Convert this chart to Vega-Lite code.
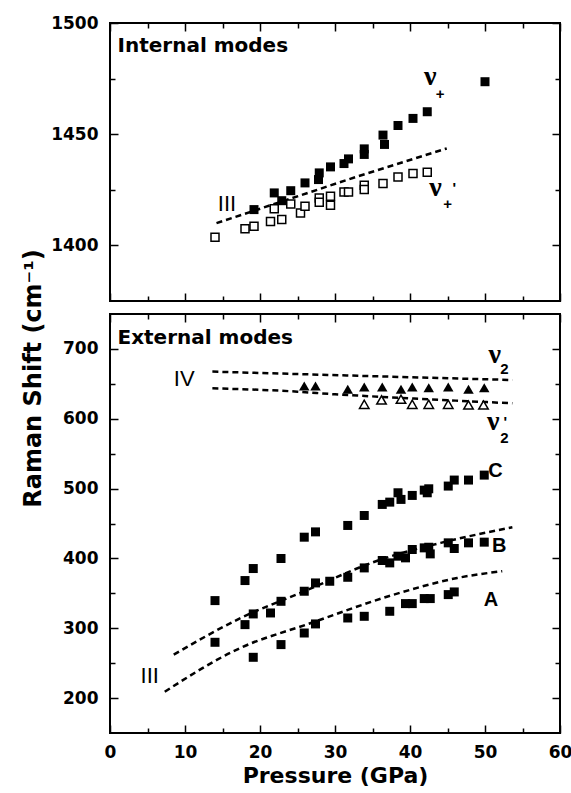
{
  "$schema": "https://vega.github.io/schema/vega-lite/v6.json",
  "background": "white",
  "padding": {"left": 19, "top": 13, "right": 5, "bottom": 5},
  "bounds": "flush",
  "spacing": 13,
  "config": {
    "view": {"stroke": "black", "strokeWidth": 2},
    "axis": {
      "domain": false, "grid": false, "tickColor": "black", "tickWidth": 1.5,
      "labelFont": "DejaVu Sans", "labelFontWeight": "bold", "labelFontSize": 17, "labelColor": "black",
      "labelFlush": false, "labelOverlap": false, "format": "d",
      "titleColor": "black", "titleFont": "DejaVu Sans", "titleFontWeight": "bold"
    }
  },
  "vconcat": [
    {
      "width": 450, "height": 278,
      "resolve": {"axis": {"x": "independent", "y": "independent"}},
      "layer": [
        {
          "data": {"values": [{"P": 14.2, "v": 1410}, {"P": 33, "v": 1431}, {"P": 44.9, "v": 1443.6}]},
          "mark": {"type": "line", "color": "black", "strokeWidth": 2.5, "strokeDash": [6, 4]},
          "encoding": {
            "x": {"field": "P", "type": "quantitative", "scale": {"domain": [0, 60], "nice": false}, "axis": {"orient": "top", "values": [0, 10, 20, 30, 40, 50, 60], "labels": false, "tickSize": -8, "title": null}},
            "y": {"field": "v", "type": "quantitative", "scale": {"domain": [1375, 1500], "nice": false, "zero": false}, "axis": {"orient": "right", "values": [1400, 1450, 1500], "labels": false, "tickSize": -8, "title": null}}
          }
        },
        {
          "data": {"values": [
            {"P": 14.0, "v": 1403.7}, {"P": 18.0, "v": 1407.5}, {"P": 19.2, "v": 1408.6}, {"P": 21.4, "v": 1410.8},
            {"P": 21.9, "v": 1416.5}, {"P": 22.9, "v": 1411.6}, {"P": 24.1, "v": 1418.6}, {"P": 25.4, "v": 1414.6},
            {"P": 26.0, "v": 1417.6}, {"P": 27.9, "v": 1421.3}, {"P": 27.9, "v": 1419.4}, {"P": 29.4, "v": 1422.1},
            {"P": 29.4, "v": 1418.0}, {"P": 31.2, "v": 1424.0}, {"P": 31.8, "v": 1424.0}, {"P": 33.9, "v": 1427.0},
            {"P": 33.9, "v": 1425.1}, {"P": 36.4, "v": 1427.8}, {"P": 38.4, "v": 1430.8}, {"P": 40.4, "v": 1432.3},
            {"P": 42.3, "v": 1432.9}
          ]},
          "mark": {"type": "point", "shape": "square", "size": 64, "filled": false, "fill": "white", "fillOpacity": 1, "stroke": "black", "strokeWidth": 1.5, "opacity": 1},
          "encoding": {
            "x": {"field": "P", "type": "quantitative", "scale": {"domain": [0, 60], "nice": false}, "axis": {"orient": "bottom", "values": [5, 15, 25, 35, 45, 55], "labels": false, "tickSize": -5, "title": null}},
            "y": {"field": "v", "type": "quantitative", "scale": {"domain": [1375, 1500], "nice": false, "zero": false}, "axis": {"orient": "left", "values": [1425, 1475], "labels": false, "tickSize": -5, "title": null}}
          }
        },
        {
          "data": {"values": [
            {"P": 19.2, "v": 1416.1}, {"P": 21.9, "v": 1423.6}, {"P": 22.9, "v": 1420.1}, {"P": 24.1, "v": 1424.6},
            {"P": 26.0, "v": 1428.1}, {"P": 27.9, "v": 1432.6}, {"P": 27.8, "v": 1429.6}, {"P": 29.4, "v": 1435.3},
            {"P": 31.2, "v": 1436.8}, {"P": 31.8, "v": 1438.9}, {"P": 33.9, "v": 1443.4}, {"P": 33.9, "v": 1440.9},
            {"P": 36.4, "v": 1449.6}, {"P": 36.6, "v": 1445.4}, {"P": 38.4, "v": 1453.9}, {"P": 40.4, "v": 1457.1},
            {"P": 42.3, "v": 1460.1}, {"P": 50.0, "v": 1473.6}
          ]},
          "mark": {"type": "point", "shape": "square", "size": 81, "filled": true, "color": "black", "opacity": 1},
          "encoding": {
            "x": {"field": "P", "type": "quantitative", "scale": {"domain": [0, 60], "nice": false}, "axis": {"orient": "bottom", "values": [0, 10, 20, 30, 40, 50, 60], "labels": false, "tickSize": -8, "title": null}},
            "y": {"field": "v", "type": "quantitative", "scale": {"domain": [1375, 1500], "nice": false, "zero": false}, "axis": {"orient": "left", "values": [1400, 1450, 1500], "tickSize": -8, "labelPadding": 20, "title": null}}
          }
        },
        {
          "data": {"values": [{"label": "Internal modes", "P": 1.0, "v": 1489.6}]},
          "mark": {"type": "text", "font": "DejaVu Sans", "fontWeight": "bold", "fontSize": 20, "align": "left", "baseline": "middle", "color": "black"},
          "encoding": {
            "x": {"field": "P", "type": "quantitative", "scale": {"domain": [0, 60], "nice": false}, "axis": {"orient": "top", "values": [5, 15, 25, 35, 45, 55], "labels": false, "tickSize": -5, "title": null}},
            "y": {"field": "v", "type": "quantitative", "scale": {"domain": [1375, 1500], "nice": false, "zero": false}, "axis": {"orient": "right", "values": [1425, 1475], "labels": false, "tickSize": -5, "title": null}},
            "text": {"field": "label"}
          }
        },
        {
          "data": {"values": [{"label": "III", "P": 15.6, "v": 1418.5}]},
          "mark": {"type": "text", "font": "Liberation Sans", "fontSize": 22, "align": "center", "baseline": "middle", "color": "black"},
          "encoding": {
            "x": {"field": "P", "type": "quantitative", "scale": {"domain": [0, 60], "nice": false}, "axis": null},
            "y": {"field": "v", "type": "quantitative", "scale": {"domain": [1375, 1500], "nice": false, "zero": false}, "axis": null},
            "text": {"field": "label"}
          }
        },
        {
          "data": {"values": [{"label": "ν", "P": 42.7, "v": 1475.5}, {"label": "ν", "P": 43.4, "v": 1426}]},
          "mark": {"type": "text", "font": "Liberation Serif", "fontWeight": "bold", "fontSize": 28, "align": "center", "baseline": "middle", "color": "black"},
          "encoding": {
            "x": {"field": "P", "type": "quantitative", "scale": {"domain": [0, 60], "nice": false}, "axis": null},
            "y": {"field": "v", "type": "quantitative", "scale": {"domain": [1375, 1500], "nice": false, "zero": false}, "axis": null},
            "text": {"field": "label"}
          }
        },
        {
          "data": {"values": [{"label": "+", "P": 44.0, "v": 1468}, {"label": "+", "P": 45.0, "v": 1418.6}, {"label": "'", "P": 45.9, "v": 1426}]},
          "mark": {"type": "text", "font": "Liberation Sans", "fontWeight": "bold", "fontSize": 15, "align": "center", "baseline": "middle", "color": "black"},
          "encoding": {
            "x": {"field": "P", "type": "quantitative", "scale": {"domain": [0, 60], "nice": false}, "axis": null},
            "y": {"field": "v", "type": "quantitative", "scale": {"domain": [1375, 1500], "nice": false, "zero": false}, "axis": null},
            "text": {"field": "label"}
          }
        }
      ]
    },
    {
      "width": 450, "height": 419,
      "resolve": {"axis": {"x": "independent", "y": "independent"}},
      "layer": [
        {
          "data": {"values": [
            {"line": "IV upper", "P": 13.65, "v": 667.5}, {"line": "IV upper", "P": 31.6, "v": 662.0}, {"line": "IV upper", "P": 53.65, "v": 655.5},
            {"line": "IV lower", "P": 13.65, "v": 643.6}, {"line": "IV lower", "P": 25.0, "v": 638.8}, {"line": "IV lower", "P": 30.0, "v": 635.0}, {"line": "IV lower", "P": 34.0, "v": 632.6}, {"line": "IV lower", "P": 53.65, "v": 622.1},
            {"line": "III B", "P": 8.5, "v": 262.2}, {"line": "III B", "P": 17.0, "v": 312.4}, {"line": "III B", "P": 25.9, "v": 353.0}, {"line": "III B", "P": 36.0, "v": 398.0}, {"line": "III B", "P": 44.1, "v": 422.3}, {"line": "III B", "P": 53.65, "v": 444.5},
            {"line": "III A", "P": 7.3, "v": 209.1}, {"line": "III A", "P": 17.0, "v": 269.9}, {"line": "III A", "P": 26.8, "v": 307.5}, {"line": "III A", "P": 37.5, "v": 347.0}, {"line": "III A", "P": 46.3, "v": 372.0}, {"line": "III A", "P": 52.3, "v": 381.7}
          ]},
          "mark": {"type": "line", "color": "black", "strokeWidth": 2.5, "strokeDash": [6, 4], "interpolate": "monotone"},
          "encoding": {
            "x": {"field": "P", "type": "quantitative", "scale": {"domain": [0, 60], "nice": false}, "axis": {"orient": "top", "values": [0, 10, 20, 30, 40, 50, 60], "labels": false, "tickSize": -8, "title": null}},
            "y": {"field": "v", "type": "quantitative", "scale": {"domain": [150, 750], "nice": false, "zero": false}, "axis": {"orient": "right", "values": [200, 300, 400, 500, 600, 700], "labels": false, "tickSize": -8, "title": null}},
            "detail": {"field": "line"}
          }
        },
        {
          "data": {"values": [
            {"P": 33.9, "v": 620.7}, {"P": 36.2, "v": 626.9}, {"P": 38.8, "v": 627.9}, {"P": 40.3, "v": 620.7},
            {"P": 42.5, "v": 620.7}, {"P": 45.1, "v": 620.7}, {"P": 47.8, "v": 619.7}, {"P": 49.8, "v": 619.7}
          ]},
          "mark": {"type": "point", "shape": "triangle-up", "size": 90, "filled": false, "fill": "white", "fillOpacity": 1, "stroke": "black", "strokeWidth": 1.5, "opacity": 1},
          "encoding": {
            "x": {"field": "P", "type": "quantitative", "scale": {"domain": [0, 60], "nice": false}, "axis": {"orient": "top", "values": [5, 15, 25, 35, 45, 55], "labels": false, "tickSize": -5, "title": null}},
            "y": {"field": "v", "type": "quantitative", "scale": {"domain": [150, 750], "nice": false, "zero": false}, "axis": {"orient": "right", "values": [250, 350, 450, 550, 650], "labels": false, "tickSize": -5, "title": null}}
          }
        },
        {
          "data": {"values": [
            {"P": 25.9, "v": 647}, {"P": 27.4, "v": 647}, {"P": 31.7, "v": 642.2}, {"P": 33.9, "v": 645.5},
            {"P": 36.3, "v": 645.5}, {"P": 38.8, "v": 642.2}, {"P": 40.3, "v": 645.5}, {"P": 42.5, "v": 644.5},
            {"P": 45.1, "v": 645.5}, {"P": 47.8, "v": 642.2}, {"P": 49.9, "v": 644.5}
          ]},
          "mark": {"type": "point", "shape": "triangle-up", "size": 110, "filled": true, "color": "black", "opacity": 1},
          "encoding": {
            "x": {"field": "P", "type": "quantitative", "scale": {"domain": [0, 60], "nice": false}, "axis": {"orient": "bottom", "values": [5, 15, 25, 35, 45, 55], "labels": false, "tickSize": -5, "title": null}},
            "y": {"field": "v", "type": "quantitative", "scale": {"domain": [150, 750], "nice": false, "zero": false}, "axis": {"orient": "left", "values": [250, 350, 450, 550, 650], "labels": false, "tickSize": -5, "title": null}}
          }
        },
        {
          "data": {"values": [
            {"s": "C", "P": 14.0, "v": 339.6}, {"s": "C", "P": 18.0, "v": 368.3}, {"s": "C", "P": 19.1, "v": 385.5}, {"s": "C", "P": 22.8, "v": 399.9},
            {"s": "C", "P": 25.9, "v": 430.4}, {"s": "C", "P": 27.4, "v": 438.0}, {"s": "C", "P": 31.7, "v": 447.2}, {"s": "C", "P": 33.9, "v": 461.5},
            {"s": "C", "P": 36.3, "v": 477.3}, {"s": "C", "P": 37.3, "v": 480.6}, {"s": "C", "P": 38.4, "v": 494.0}, {"s": "C", "P": 38.8, "v": 484.5},
            {"s": "C", "P": 40.3, "v": 490.2}, {"s": "C", "P": 41.9, "v": 497.8}, {"s": "C", "P": 42.5, "v": 499.7}, {"s": "C", "P": 42.3, "v": 494.0},
            {"s": "C", "P": 45.1, "v": 503.6}, {"s": "C", "P": 45.9, "v": 512.2}, {"s": "C", "P": 47.8, "v": 512.2}, {"s": "C", "P": 49.9, "v": 519.3},
            {"s": "B", "P": 14.0, "v": 279.9}, {"s": "B", "P": 18.0, "v": 305.2}, {"s": "B", "P": 19.1, "v": 320.5}, {"s": "B", "P": 21.4, "v": 321.9},
            {"s": "B", "P": 22.8, "v": 338.6}, {"s": "B", "P": 25.9, "v": 353.0}, {"s": "B", "P": 27.4, "v": 364.9}, {"s": "B", "P": 29.3, "v": 367.3},
            {"s": "B", "P": 31.7, "v": 373.0}, {"s": "B", "P": 33.9, "v": 386.4}, {"s": "B", "P": 36.3, "v": 397.0}, {"s": "B", "P": 37.3, "v": 393.6},
            {"s": "B", "P": 38.4, "v": 403.2}, {"s": "B", "P": 39.4, "v": 400.8}, {"s": "B", "P": 40.3, "v": 412.8}, {"s": "B", "P": 41.9, "v": 415.1},
            {"s": "B", "P": 42.5, "v": 416.0}, {"s": "B", "P": 42.7, "v": 406.5}, {"s": "B", "P": 45.1, "v": 422.3}, {"s": "B", "P": 45.9, "v": 414.2},
            {"s": "B", "P": 47.8, "v": 422.3}, {"s": "B", "P": 49.9, "v": 423.3},
            {"s": "A", "P": 19.1, "v": 258.4}, {"s": "A", "P": 22.8, "v": 276.6}, {"s": "A", "P": 25.9, "v": 293.2}, {"s": "A", "P": 27.4, "v": 306.2},
            {"s": "A", "P": 31.7, "v": 314.7}, {"s": "A", "P": 33.9, "v": 317.1}, {"s": "A", "P": 37.3, "v": 324.3}, {"s": "A", "P": 39.4, "v": 335.3},
            {"s": "A", "P": 40.3, "v": 335.3}, {"s": "A", "P": 41.9, "v": 342.5}, {"s": "A", "P": 42.7, "v": 342.5}, {"s": "A", "P": 45.1, "v": 348.2},
            {"s": "A", "P": 45.9, "v": 352.0}
          ]},
          "mark": {"type": "point", "shape": "square", "size": 81, "filled": true, "color": "black", "opacity": 1},
          "encoding": {
            "x": {"field": "P", "type": "quantitative", "scale": {"domain": [0, 60], "nice": false}, "axis": {"orient": "bottom", "values": [0, 10, 20, 30, 40, 50, 60], "tickSize": -8, "labelPadding": 19, "title": "Pressure (GPa)", "titleFontSize": 22, "titlePadding": 5}},
            "y": {"field": "v", "type": "quantitative", "scale": {"domain": [150, 750], "nice": false, "zero": false}, "axis": {"orient": "left", "values": [200, 300, 400, 500, 600, 700], "tickSize": -8, "labelPadding": 20, "title": "Raman Shift (cm⁻¹)", "titleFontSize": 24, "titleX": -65, "titleY": 64, "titleAngle": -90, "titleAlign": "center", "titleBaseline": "bottom"}}
          }
        },
        {
          "data": {"values": [{"label": "External modes", "P": 1.0, "v": 716.2}]},
          "mark": {"type": "text", "font": "DejaVu Sans", "fontWeight": "bold", "fontSize": 20, "align": "left", "baseline": "middle", "color": "black"},
          "encoding": {
            "x": {"field": "P", "type": "quantitative", "scale": {"domain": [0, 60], "nice": false}, "axis": null},
            "y": {"field": "v", "type": "quantitative", "scale": {"domain": [150, 750], "nice": false, "zero": false}, "axis": null},
            "text": {"field": "label"}
          }
        },
        {
          "data": {"values": [{"label": "C", "P": 51.4, "v": 525}, {"label": "B", "P": 51.9, "v": 417.5}, {"label": "A", "P": 50.8, "v": 341}]},
          "mark": {"type": "text", "font": "Liberation Sans", "fontWeight": "bold", "fontSize": 20, "align": "center", "baseline": "middle", "color": "black"},
          "encoding": {
            "x": {"field": "P", "type": "quantitative", "scale": {"domain": [0, 60], "nice": false}, "axis": null},
            "y": {"field": "v", "type": "quantitative", "scale": {"domain": [150, 750], "nice": false, "zero": false}, "axis": null},
            "text": {"field": "label"}
          }
        },
        {
          "data": {"values": [{"label": "IV", "P": 9.9, "v": 656.6}, {"label": "III", "P": 5.3, "v": 231}]},
          "mark": {"type": "text", "font": "Liberation Sans", "fontSize": 22, "align": "center", "baseline": "middle", "color": "black"},
          "encoding": {
            "x": {"field": "P", "type": "quantitative", "scale": {"domain": [0, 60], "nice": false}, "axis": null},
            "y": {"field": "v", "type": "quantitative", "scale": {"domain": [150, 750], "nice": false, "zero": false}, "axis": null},
            "text": {"field": "label"}
          }
        },
        {
          "data": {"values": [{"label": "ν", "P": 51.3, "v": 691}, {"label": "ν", "P": 51.1, "v": 595}]},
          "mark": {"type": "text", "font": "Liberation Serif", "fontWeight": "bold", "fontSize": 28, "align": "center", "baseline": "middle", "color": "black"},
          "encoding": {
            "x": {"field": "P", "type": "quantitative", "scale": {"domain": [0, 60], "nice": false}, "axis": null},
            "y": {"field": "v", "type": "quantitative", "scale": {"domain": [150, 750], "nice": false, "zero": false}, "axis": null},
            "text": {"field": "label"}
          }
        },
        {
          "data": {"values": [{"label": "2", "P": 52.6, "v": 670.9}, {"label": "2", "P": 52.6, "v": 572.8}, {"label": "'", "P": 52.7, "v": 595}]},
          "mark": {"type": "text", "font": "Liberation Sans", "fontWeight": "bold", "fontSize": 15, "align": "center", "baseline": "middle", "color": "black"},
          "encoding": {
            "x": {"field": "P", "type": "quantitative", "scale": {"domain": [0, 60], "nice": false}, "axis": null},
            "y": {"field": "v", "type": "quantitative", "scale": {"domain": [150, 750], "nice": false, "zero": false}, "axis": null},
            "text": {"field": "label"}
          }
        }
      ]
    }
  ]
}
